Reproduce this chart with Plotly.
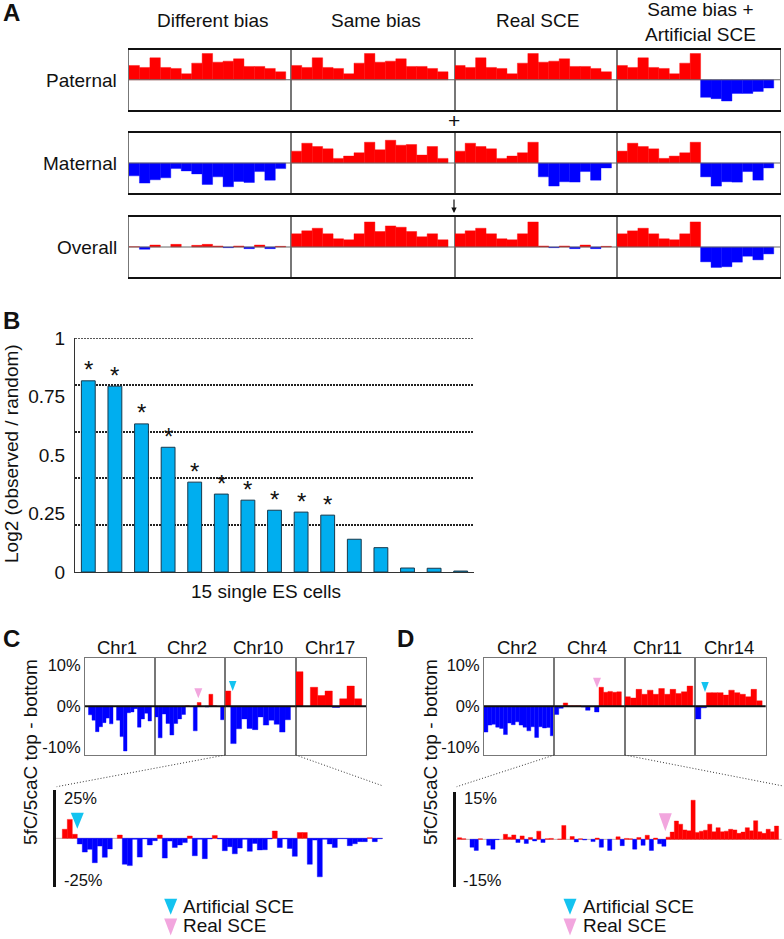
"""Four-panel figure: strand bias bars (A), log2 enrichment per cell (B),
5fC/5caC top - bottom tracks for two cells (C, D)."""
import plotly.graph_objects as go

W, H = 784, 939
FONT = "Liberation Sans"
RED = "#ff0000"
BLUE = "#0000ff"
CYAN = "#14c3f0"
PINK = "#f2a6de"
GREY = "#777777"

# ── Panel A values (arbitrary units, axis runs from -91 to 91) ────────────────
A_TITLES = ["Different bias", "Same bias", "Real SCE", "Same bias +<br>Artificial SCE"]
A_ROWS = ["Paternal", "Maternal", "Overall"]

A_PATERNAL = [43, 37, 66, 37, 34, 18, 50, 79, 53, 56, 63, 40, 40, 34, 24]
A_PATERNAL_ART = [43, 37, 66, 37, 34, 18, 50, 79, -53, -57, -64, -41, -41, -35, -25]
A_MATERNAL_DIFF = [-39, -61, -51, -45, -17, -24, -33, -65, -42, -72, -56, -59, -26, -52, -17]
A_MATERNAL_SAME = [36, 60, 50, 43, 14, 21, 31, 63, 40, 69, 54, 56, 24, 50, 14]
A_MATERNAL_SCE = [36, 60, 50, 43, 14, 21, 31, 63, -42, -70, -57, -58, -26, -52, -15]
A_OVERALL_DIFF = [1, -7, 6, 0, 8, 0, 5, 8, 3, -2, 3, -5, 6, -5, 2]
A_OVERALL_SAME = [40, 49, 57, 40, 25, 22, 40, 76, 47, 64, 60, 47, 31, 40, 22]
A_OVERALL_SCE = [40, 49, 57, 40, 25, 22, 40, 76, 3, -2, 3, -5, 6, -5, 2]
A_OVERALL_ART = [40, 49, 57, 40, 25, 22, 40, 76, -45, -62, -60, -46, -28, -39, -21]

# ── Panel B values ────────────────────────────────────────────────────────────
B_CELLS = list(range(1, 16))
B_VALUES = [0.817, 0.794, 0.633, 0.533, 0.384, 0.333, 0.307, 0.264, 0.256, 0.243,
            0.14, 0.104, 0.017, 0.016, 0.004]
B_STARS = ["*"] * 10 + [""] * 5
B_TICKS = [0, 0.25, 0.5, 0.75, 1]
B_TICK_LABELS = ["0", "0.25", "0.5", "0.75", "1"]
B_GRID = [0.2, 0.4, 0.6, 0.8, 1]

# ── Panel C values (%) ────────────────────────────────────────────────────────
C_CHROMS = ["Chr1", "Chr2", "Chr10", "Chr17"]
C_CHR1 = [0, -2.1, -3.4, -6.2, -5.0, -4.0, -2.9, -4.3, 0, -3.4, -7.4, -10.9, -1.6, -1.4,
          -0.6, -5.1, -3.1, -1.7, -3.6]
C_CHR2 = [-2.6, -7.7, -1.9, -4.2, -7.0, -4.2, -3.1, -2.0, 0.1, 0, -6.0, 0.9, 0, -0.2,
          2.9, 0.1, 0, -3.3]
C_CHR10 = [3.7, -9.1, -5.5, -3.1, -5.4, -5.7, -2.6, -4.6, -3.4, -4.4, -6.3, -3.3]
C_CHR17 = [8.4, 0, 4.6, 2.6, 3.7, -0.3, 1.8, 4.9, 1.8]
C_STRIP = [0, 4.7, 9.8, 2.1, -2.9, -7.1, -5.7, -12.6, -4.0, -9.8, -5.5, 0, 1.7, -13.4, -14.1,
           -0.5, -9.7, -0.3, -3.4, -1.2, 1.7, -10.2, -1.4, -4.7, -3.4, -2.2, 1.2, -9.0, -0.5,
           -10.5, -0.3, 1.5, -0.3, -6.4, -4.3, -8.0, -5.0, -0.5, -6.7, -2.6, -6.0, -5.9, -0.3,
           3.8, -4.7, -0.3, -5.2, -9.3, 3.0, 3.0, -13.4, -0.9, -19.9, -0.5, -2.9, -4.7, -0.2,
           -0.2, -3.8, -2.8, -1.7, -1.7, 0.3, -1.7, -0.2]

# ── Panel D values (%) ────────────────────────────────────────────────────────
D_CHROMS = ["Chr2", "Chr4", "Chr11", "Chr14"]
D_CHR2 = [-6.3, -4.6, -4.4, -5.1, -5.4, -6.9, -4.1, -4.5, -3.8, -4.6, -5.1, -6.0, -5.0, -7.6,
          -5.0, -5.3, -5.2, -7.2]
D_CHR4 = [-2.0, -0.5, 0.8, 0.1, 0.1, 0.1, -0.2, -1.0, -0.1, -1.4, 4.6, 3.4, 3.6, 3.4, 3.5]
D_CHR11 = [2.3, 2.0, 4.1, 2.9, 3.9, 2.9, 4.3, 2.9, 4.1, 3.1, 3.5, 4.9]
D_CHR14 = [-3.1, -0.4, 3.3, 3.3, 3.3, 2.7, 3.9, 3.3, 2.9, 2.3, 4.1, 1.3]
D_STRIP = [0.5, 0.2, 0, -2.5, -3.5, 0.2, 0, -1.9, -3.1, -0.1, 0, 1.6, 0.7, 1.4, -1.0, 1.1, -1.3,
           0.6, -0.5, 2.6, -1.0, 0.2, 0.3, 0, 0.1, 4.4, 0, 0.9, -0.8, 0.2, -0.2, 0, -0.7, 0.4,
           -2.5, 0, -3.5, 0, 0.8, -2.0, 0.3, 0.2, -3.1, 0.6, -1.9, 1.3, -3.5, 0.4, -1.4, -2.2,
           0.7, 2.3, 5.8, 4.8, 3.0, 2.7, 12.4, 2.2, 2.6, 2.9, 4.8, 2.4, 3.7, 2.4, 2.6, 3.2, 3.0,
           1.9, 2.3, 3.7, 2.7, 5.9, 2.4, 1.9, 3.2, 2.4, 4.2]

fig = go.Figure()
axis_count = 1  # ids start at 2 so that "x2 domain" style refs work everywhere


def px_x(x):
    return x / W


def px_y(y):
    return 1 - y / H


def bar_color(v):
    if v == 0:
        return "rgba(0,0,0,0)"
    return RED if v > 0 else BLUE


def add_bars(values, box, bar_px, start_px, half_range):
    """One bar panel placed at a pixel box (x0, top, x1, bottom); returns axis ids."""
    global axis_count
    axis_count += 1
    n = axis_count
    x0, top, x1, bottom = box
    first = -0.5 + (x0 - start_px) / bar_px
    colors = [bar_color(v) for v in values]
    fig.add_trace(go.Bar(
        x=list(range(len(values))), y=values, xaxis=f"x{n}", yaxis=f"y{n}", width=1,
        marker=dict(color=colors, line=dict(color=colors, width=0.4)),
        showlegend=False, hoverinfo="y",
    ))
    fig.update_layout(**{
        f"xaxis{n}": dict(domain=[px_x(x0), px_x(x1)], range=[first, first + (x1 - x0) / bar_px],
                          anchor=f"y{n}", showticklabels=False, ticks="", showgrid=False,
                          zeroline=False),
        f"yaxis{n}": dict(domain=[px_y(bottom), px_y(top)], range=[-half_range, half_range],
                          anchor=f"x{n}", showticklabels=False, ticks="", showgrid=False,
                          zeroline=False),
    })
    return f"xaxis{n}", f"yaxis{n}", n


def text(x, y, s, size=19, anchor="center", angle=0):
    fig.add_annotation(x=px_x(x), y=px_y(y), xref="paper", yref="paper", text=s, showarrow=False,
                       xanchor=anchor, yanchor="middle", textangle=angle,
                       font=dict(family=FONT, size=size, color="#111111"))


def baseline(n, color, width):
    fig.add_shape(type="line", xref=f"x{n} domain", yref=f"y{n}", x0=0, x1=1, y0=0, y1=0,
                  line=dict(color=color, width=width), layer="above")


def triangle(x, y, w, h, color):
    path = (f"M {px_x(x - w / 2)} {px_y(y - h / 2)} L {px_x(x + w / 2)} {px_y(y - h / 2)} "
            f"L {px_x(x)} {px_y(y + h / 2)} Z")
    fig.add_shape(type="path", xref="paper", yref="paper", path=path, fillcolor=color,
                  line_width=0, layer="above")


def dotted(x0, y0, x1, y1):
    fig.add_shape(type="line", xref="paper", yref="paper", x0=px_x(x0), y0=px_y(y0),
                  x1=px_x(x1), y1=px_y(y1), line=dict(color="#333333", width=1, dash="1px,2px"))


# ── Panel A ───────────────────────────────────────────────────────────────────
A_EDGES = [129, 291.3, 454.7, 617, 780]
A_BANDS = [(49.5, 110), (133, 193), (217, 277)]
A_GRID = [
    [A_PATERNAL, A_PATERNAL, A_PATERNAL, A_PATERNAL_ART],
    [A_MATERNAL_DIFF, A_MATERNAL_SAME, A_MATERNAL_SCE, A_MATERNAL_SCE],
    [A_OVERALL_DIFF, A_OVERALL_SAME, A_OVERALL_SCE, A_OVERALL_ART],
]
for r, (top, bottom) in enumerate(A_BANDS):
    for c in range(4):
        box = (A_EDGES[c], top, A_EDGES[c + 1], bottom)
        xa, ya, n = add_bars(A_GRID[r][c], box, 10.45, A_EDGES[c], 91)
        fig.update_layout(**{
            xa: dict(showline=True, mirror=True, linecolor="#111111", linewidth=2),
            ya: dict(showline=True, mirror=True, linecolor=GREY, linewidth=1),
        })
        baseline(n, "#666666", 1)
    text(119, (top + bottom) / 2 + 0.5, A_ROWS[r], anchor="right")

for xc, yc, title in zip([213, 375.7, 537, 700], [21, 21, 21, 22], A_TITLES):
    text(xc, yc, title)
text(454, 120, "+", size=21)
fig.add_annotation(x=px_x(454), y=px_y(213), xref="paper", yref="paper", ax=0, ay=-15,
                   showarrow=True, arrowhead=2, arrowsize=0.9, arrowwidth=1.2, arrowcolor="#111111",
                   text="")

# ── Panel B ───────────────────────────────────────────────────────────────────
fig.add_trace(go.Bar(
    x=B_CELLS, y=B_VALUES, xaxis="x90", yaxis="y90", width=0.52,
    marker=dict(color="#00aeef", line=dict(color="#17394d", width=1)),
    showlegend=False,
))
fig.update_layout(
    xaxis90=dict(domain=[px_x(75), px_x(474)], range=[0.5, 15.5], anchor="y90", showticklabels=False,
                 ticks="", showgrid=False, showline=True, linecolor="#333333", linewidth=1),
    yaxis90=dict(domain=[px_y(572), px_y(338)], range=[0, 1], anchor="x90", tickvals=B_TICKS,
                 ticktext=B_TICK_LABELS, tickfont=dict(family=FONT, size=19, color="#111111"),
                 ticks="outside", ticklen=5, tickcolor="rgba(0,0,0,0)", showgrid=False,
                 zeroline=False, showline=True, linecolor="#333333", linewidth=1,
                 minor=dict(tickvals=B_GRID[:-1], showgrid=True, griddash="2px,1px",
                            gridcolor="#222222", gridwidth=1.5, ticks="")),
)
# a minor tick that coincides with a major one is dropped, so the line at 1 is a shape
fig.add_shape(type="line", xref="x90 domain", yref="y90", x0=0, x1=1, y0=B_GRID[-1], y1=B_GRID[-1],
              line=dict(color="#222222", width=1.5, dash="2px,1px"), layer="below")
for cell, value, star in zip(B_CELLS, B_VALUES, B_STARS):
    if star:
        fig.add_annotation(x=cell, y=value, xref="x90", yref="y90", text=star, showarrow=False,
                           yanchor="middle", yshift=11, font=dict(family=FONT, size=24, color="#111111"))
text(11, 454, "Log2 (observed / random)", angle=-90)
text(265.7, 591.7, "15 single ES cells")


# ── Panels C and D ────────────────────────────────────────────────────────────
def chrom_panels(edges, series, starts, bar_widths, chroms, title_xs):
    for c, vals in enumerate(series):
        box = (edges[c], 657.7, edges[c + 1], 754.7)
        xa, ya, n = add_bars(vals, box, bar_widths[c], starts[c], 11.8)
        fig.update_layout(**{
            xa: dict(showline=True, mirror=True, linecolor=GREY, linewidth=1),
            ya: dict(showline=True, mirror=True, linecolor=GREY, linewidth=1),
        })
        if c == 0:
            fig.update_layout(**{
                ya: dict(showticklabels=True, tickvals=[-10, 0, 10], ticktext=["-10%", "0%", "10%"],
                         tickfont=dict(family=FONT, size=16.5, color="#111111")),
            })
        baseline(n, "#111111", 2)
        text(title_xs[c], 647, chroms[c], size=18.5)


def strip(box, values, bar_px, start_px, half_range):
    xa, ya, n = add_bars(values, box, bar_px, start_px, half_range)
    fig.update_layout(**{
        ya: dict(showline=True, linecolor="#111111", linewidth=3),
    })
    fig.add_shape(type="line", xref=f"x{n} domain", yref=f"y{n}", x0=0, x1=1, y0=0, y1=0,
                  line=dict(color="#c0b0b0", width=1), layer="below")


chrom_panels([85, 155, 225.3, 295.7, 366], [C_CHR1, C_CHR2, C_CHR10, C_CHR17],
             [85, 154.3, 225.3, 295.7], [3.5, 3.9, 5.43, 7.33], C_CHROMS,
             [116.7, 187.3, 258.3, 330])
chrom_panels([484, 554.3, 624.7, 695.3, 765.7], [D_CHR2, D_CHR4, D_CHR11, D_CHR14],
             [484, 554.3, 624.7, 695.3], [3.9, 4.47, 5.67, 5.57], D_CHROMS,
             [516.7, 586.7, 657, 729])

strip((56, 790, 383, 886.7), C_STRIP, 5, 57.3, 25)
strip((456, 792, 781.7, 886.7), D_STRIP, 4.17, 457.5, 15)

text(30, 752, "5fC/5caC top - bottom", angle=-90)
text(430, 752, "5fC/5caC top - bottom", angle=-90)
text(62, 798, "25%", size=16.5, anchor="left")
text(62, 880, "-25%", size=16.5, anchor="left")
text(462, 798, "15%", size=16.5, anchor="left")
text(460.5, 880, "-15%", size=16.5, anchor="left")

dotted(225.3, 755, 56.7, 786.7)
dotted(295.7, 755, 381.7, 785.5)
dotted(554.3, 755, 456.7, 786.7)
dotted(624.7, 755, 781.7, 785.7)

# callout arrowheads
triangle(198.3, 693.3, 8, 10, PINK)
triangle(232.7, 686, 7.5, 10, CYAN)
triangle(77.3, 820.7, 13, 16, CYAN)
triangle(597, 682.7, 8, 10, PINK)
triangle(705, 687, 7.5, 10, CYAN)
triangle(665.3, 822.3, 13, 18, PINK)

for xc, xt in [(170.7, 181), (570, 580.5)]:
    triangle(xc, 906.7, 13, 16, CYAN)
    triangle(xc, 927, 13, 17, PINK)
    text(xt, 906, "Artificial SCE", anchor="left")
    text(xt, 925.5, "Real SCE", anchor="left")

for x, y, letter in [(11, 13, "A"), (11, 320, "B"), (11, 638, "C"), (405, 638, "D")]:
    text(x, y, f"<b>{letter}</b>", size=24)

fig.update_layout(
    template="none", width=W, height=H, margin=dict(l=0, r=0, t=0, b=0, pad=0),
    paper_bgcolor="white", plot_bgcolor="white", barmode="overlay", font=dict(family=FONT),
)

fig.write_html("out.html", config=dict(displayModeBar=False),
               post_script="document.body.style.margin='0';")
